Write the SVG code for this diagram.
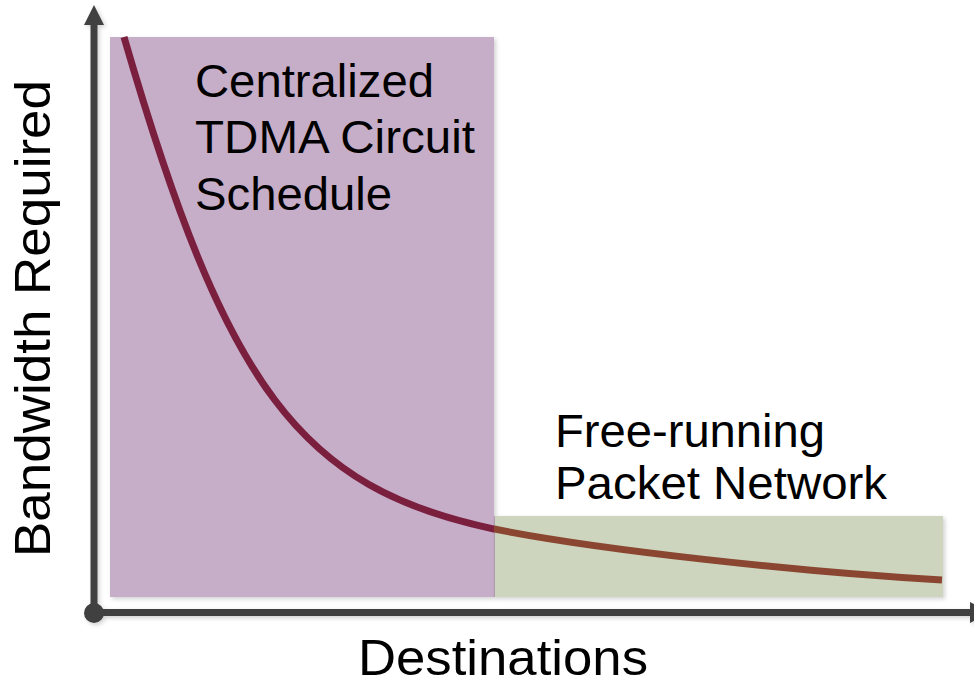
<svg xmlns="http://www.w3.org/2000/svg" width="974" height="681" viewBox="0 0 974 681">
  <style>
    .label { font-family: "Liberation Sans", Arial, sans-serif; fill: #000000; }
    .axis { stroke: #404040; stroke-width: 7; fill: none; }
    .curve { fill: none; stroke-width: 7; stroke-linecap: butt; }
  </style>
  <defs>
    <filter id="shadow" x="-5%" y="-5%" width="115%" height="115%">
      <feDropShadow dx="2" dy="2" stdDeviation="2" flood-color="#000000" flood-opacity="0.18"/>
    </filter>
    <clipPath id="leftPart"><rect x="0" y="0" width="494" height="681"/></clipPath>
    <clipPath id="rightPart"><rect x="494" y="0" width="480" height="681"/></clipPath>
    <path id="demandPath" d="M124,37 C226.4,389.8 300.4,488.2 494,529 C600,550 800,572 942,580"/>
  </defs>

  <!-- Region: circuit-scheduled traffic -->
  <g id="circuit-region">
    <rect x="110" y="37" width="384" height="560" fill="#c6adc8" filter="url(#shadow)"/>
  </g>

  <!-- Region: packet-switched traffic -->
  <g id="packet-region">
    <rect x="494" y="516" width="449" height="81" fill="#cdd5bf" filter="url(#shadow)"/>
    <line x1="494.5" y1="516" x2="494.5" y2="597" stroke="#b09ab0" stroke-width="1"/>
  </g>

  <!-- Bandwidth vs. destinations curve, coloured per region -->
  <g id="connectors">
    <use href="#demandPath" class="curve" clip-path="url(#leftPart)" stroke="#7a1f3e"/>
    <use href="#demandPath" class="curve" clip-path="url(#rightPart)" stroke="#8a4630"/>
  </g>

  <!-- Axes -->
  <g id="axes" filter="url(#shadow)">
    <line class="axis" x1="94" y1="613" x2="94" y2="22"/>
    <polygon points="94,5 104,25 84,25" fill="#404040"/>
    <line class="axis" x1="94" y1="612.5" x2="972" y2="612.5"/>
    <polygon points="970,602 990,612.5 970,623" fill="#404040"/>
    <circle cx="94" cy="613" r="10" fill="#404040"/>
  </g>

  <!-- Labels -->
  <g id="circuit-label">
    <text class="label" x="195" y="97" font-size="46" textLength="239" lengthAdjust="spacingAndGlyphs">Centralized</text>
    <text class="label" x="195" y="153" font-size="46" textLength="280" lengthAdjust="spacingAndGlyphs">TDMA Circuit</text>
    <text class="label" x="195" y="210" font-size="46" textLength="197" lengthAdjust="spacingAndGlyphs">Schedule</text>
  </g>
  <g id="packet-label">
    <text class="label" x="555" y="447" font-size="46" textLength="270" lengthAdjust="spacingAndGlyphs">Free-running</text>
    <text class="label" x="555" y="499" font-size="46" textLength="332" lengthAdjust="spacingAndGlyphs">Packet Network</text>
  </g>
  <g id="y-axis-label">
    <text class="label" transform="translate(50,557) rotate(-90)" x="0" y="0" font-size="50" textLength="477" lengthAdjust="spacingAndGlyphs">Bandwidth Required</text>
  </g>
  <g id="x-axis-label">
    <text class="label" x="358" y="675" font-size="50" textLength="290" lengthAdjust="spacingAndGlyphs">Destinations</text>
  </g>
</svg>
